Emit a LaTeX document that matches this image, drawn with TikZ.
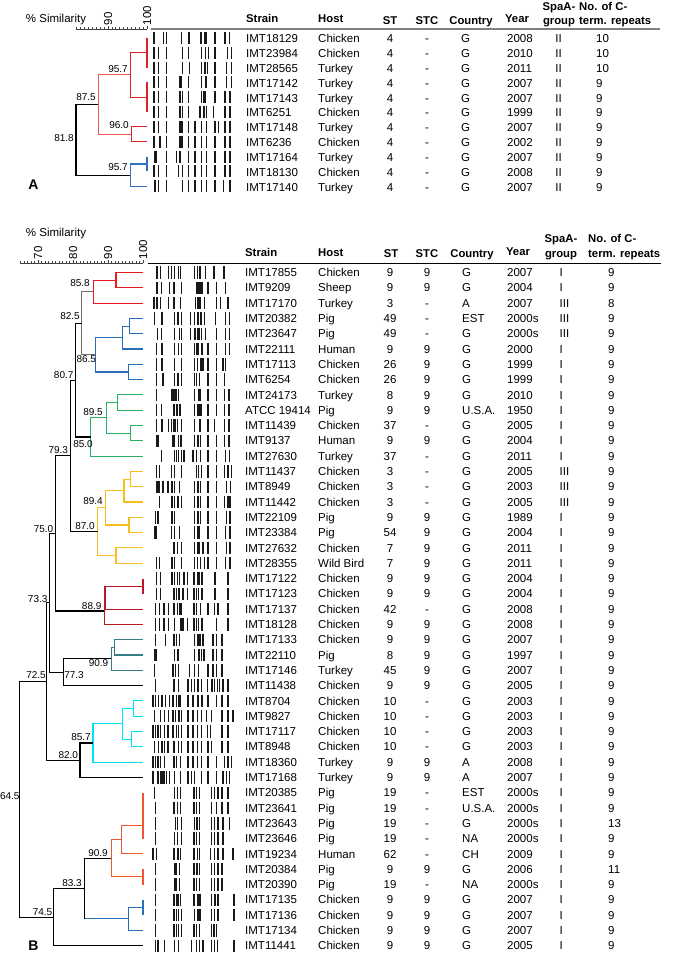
\documentclass[tikz,border=0pt]{standalone}
\usepackage{fontspec}
\setmainfont{Liberation Sans}
\definecolor{rA}{RGB}{228,30,38}
\definecolor{lrA}{RGB}{238,85,85}
\definecolor{bA}{RGB}{45,115,190}
\definecolor{rB}{RGB}{230,25,30}
\definecolor{bB}{RGB}{40,110,185}
\definecolor{gB}{RGB}{40,175,95}
\definecolor{yB}{RGB}{248,190,30}
\definecolor{drB}{RGB}{185,25,35}
\definecolor{tlB}{RGB}{55,125,135}
\definecolor{cyB}{RGB}{0,228,242}
\definecolor{orB}{RGB}{240,85,45}
\definecolor{gyN}{RGB}{110,110,110}
\tikzset{
 tx/.style={font=\fontsize{11.5}{13}\selectfont, inner sep=0pt, text height=8.2pt, text depth=0pt},
 hd/.style={tx, font=\fontsize{11.3}{13}\selectfont\bfseries},
 lab/.style={font=\fontsize{10}{12}\selectfont, inner sep=0pt, text height=7.2pt, text depth=0pt},
 band/.style={black!90, line width=1.1pt},
 den/.style={line width=1.1pt},
 axisln/.style={black!75, line width=0.7pt},
 panellab/.style={font=\fontsize{14}{16}\selectfont\bfseries, inner sep=0pt},
}
\newcommand\dgjoin[6]{\draw[den,#1] (#4,#3) -- (#2,#3) -- (#2,#5) -- (#6,#5);}
\newcommand\rowA[9]{%
 \pgfmathsetmacro\yy{38.3+14.9*#1}%
 \node[tx,anchor=west] (as#1) at (246,\yy) {#2};
 \node[tx,anchor=west] (ah#1) at (318,\yy) {#3};
 \node[tx] (ast#1) at (390,\yy) {#4};
 \node[tx] (astc#1) at (427,\yy) {#5};
 \node[tx,anchor=west] (ac#1) at (461,\yy) {#6};
 \node[tx,anchor=west] (ay#1) at (507,\yy) {#7};
 \node[tx] (ag#1) at (558.5,\yy) {#8};
 \node[tx,anchor=west] (an#1) at (596,\yy) {#9};
}
\newcommand\rowB[9]{%
 \pgfmathsetmacro\yy{272.5+15.3*#1}%
 \node[tx,anchor=west] (bs#1) at (245,\yy) {#2};
 \node[tx,anchor=west] (bh#1) at (318,\yy) {#3};
 \node[tx] (bst#1) at (390,\yy) {#4};
 \node[tx] (bstc#1) at (427,\yy) {#5};
 \node[tx,anchor=west] (bc#1) at (462,\yy) {#6};
 \node[tx,anchor=west] (by#1) at (507,\yy) {#7};
 \node[tx,anchor=west] (bg#1) at (559.5,\yy) {#8};
 \node[tx,anchor=west] (bn#1) at (608,\yy) {#9};
}
\begin{document}
\begin{tikzpicture}[x=1pt,y=-1pt]
\useasboundingbox (0,0) rectangle (681,956);
\fill[white] (0,0) rectangle (681,956);

% ================= PANEL A =================
\node[tx] (simA) at (56,18.3) {\% Similarity};
\draw[axisln] (76,29) -- (147,29);
\foreach \s in {82,...,100} {\pgfmathsetmacro\xx{147-(100-\s)*3.9}\draw[axisln] (\xx,29) -- (\xx,27.2);}
\foreach \s in {90,100} {\pgfmathsetmacro\xx{147-(100-\s)*3.9}\draw[axisln] (\xx,29) -- (\xx,25.8);}
\node[tx,rotate=90,anchor=west] (ax90) at (108,25.5) {90};
\node[tx,rotate=90,anchor=west] (ax100) at (147,25.5) {100};
\draw[gray, line width=2pt] (151,29) -- (660,29);

% headers A
\node[hd,anchor=west] (hAs) at (246,18.5) {Strain};
\node[hd,anchor=west] (hAh) at (318,18.5) {Host};
\node[hd] (hAst) at (390,20.5) {ST};
\node[hd] (hAstc) at (427,20) {STC};
\node[hd] (hAc) at (471,20) {Country};
\node[hd] (hAy) at (517,18.5) {Year};
\node[hd] (hAg1) at (559,6.5) {SpaA-};
\node[hd] (hAg2) at (559,20) {group};
\node[hd,anchor=west] (hAn1) at (579,6.5) {No. of C-};
\node[hd,anchor=west] (hAn2) at (579,20) {term. repeats};

\rowA{0}{IMT18129}{Chicken}{4}{-}{G}{2008}{II}{10}
\rowA{1}{IMT23984}{Chicken}{4}{-}{G}{2010}{II}{10}
\rowA{2}{IMT28565}{Turkey}{4}{-}{G}{2011}{II}{10}
\rowA{3}{IMT17142}{Turkey}{4}{-}{G}{2007}{II}{9}
\rowA{4}{IMT17143}{Turkey}{4}{-}{G}{2007}{II}{9}
\rowA{5}{IMT6251}{Chicken}{4}{-}{G}{1999}{II}{9}
\rowA{6}{IMT17148}{Turkey}{4}{-}{G}{2007}{II}{9}
\rowA{7}{IMT6236}{Chicken}{4}{-}{G}{2002}{II}{9}
\rowA{8}{IMT17164}{Turkey}{4}{-}{G}{2007}{II}{9}
\rowA{9}{IMT18130}{Chicken}{4}{-}{G}{2008}{II}{9}
\rowA{10}{IMT17140}{Turkey}{4}{-}{G}{2007}{II}{9}

% gel A
\foreach \i/\L in {
0/{462,490,500,545,567,603,615,620,645,675,688},
1/{462,475,500,548,565,605,617,625,645,683,695},
2/{462,475,500,548,568,605,615,622,645,680,695},
3/{462,475,500,538,542,545,565,605,618,645,680,695},
4/{462,475,500,540,548,565,605,612,615,645,675,690},
5/{462,475,500,540,548,565,600,612,620,640,675,690},
6/{462,475,500,540,543,548,565,585,605,620,645,655,675,690},
7/{462,480,500,540,543,548,565,585,605,620,645,675,690},
8/{465,470,500,530,540,565,585,605,620,645,675,690},
9/{462,475,500,535,548,565,585,605,620,645,675,690},
10/{465,475,500,548,565,585,605,620,645,670,690}} {
 \pgfmathsetmacro\yy{37.8+14.85*\i}
 \foreach \z in \L {\draw[band] ({\z/3},{\yy-6}) -- ({\z/3},{\yy+6});}
}

% dendrogram A
\draw[den,rA] (147,37.8) -- (147,67.5);
\draw[den,rA] (147,82.35) -- (147,112.05);
\dgjoin{rA}{130.2}{52.65}{147}{97.2}{147}
\dgjoin{rA}{131.4}{126.9}{147}{141.75}{147}
\dgjoin{lrA}{98.25}{74.9}{130.2}{134.3}{131.4}
\draw[den,bA] (147,156.6) -- (147,171.45);
\dgjoin{bA}{130.2}{164.0}{147}{186.3}{147}
\dgjoin{black}{76}{104.6}{98.25}{175.2}{130.2}
\node[lab] (la1) at (118,69) {95.7};
\node[lab] (la2) at (86,96.7) {87.5};
\node[lab] (la3) at (119,125) {96.0};
\node[lab] (la4) at (64,137.7) {81.8};
\node[lab] (la5) at (118,166.7) {95.7};
\node[panellab] (pA) at (33.5,185) {A};

% ================= PANEL B =================
\node[tx] (simB) at (56,232.3) {\% Similarity};
\draw[axisln] (20,263) -- (143,263);
\foreach \s in {65,...,100} {\pgfmathsetmacro\xx{143-(100-\s)*3.5}\draw[axisln] (\xx,263) -- (\xx,261.2);}
\foreach \s in {70,80,90,100} {\pgfmathsetmacro\xx{143-(100-\s)*3.5}\draw[axisln] (\xx,263) -- (\xx,259.8);}
\node[tx,rotate=90,anchor=west] (bx70) at (38,259.5) {70};
\node[tx,rotate=90,anchor=west] (bx80) at (73,259.5) {80};
\node[tx,rotate=90,anchor=west] (bx90) at (108,259.5) {90};
\node[tx,rotate=90,anchor=west] (bx100) at (143,259.5) {100};
\draw[black, line width=0.8pt] (148,263) -- (661,263);

% headers B
\node[hd,anchor=west] (hBs) at (245,252.5) {Strain};
\node[hd,anchor=west] (hBh) at (318,252.5) {Host};
\node[hd] (hBst) at (391,253.5) {ST};
\node[hd] (hBstc) at (427,253.5) {STC};
\node[hd] (hBc) at (472,253.5) {Country};
\node[hd] (hBy) at (518,251) {Year};
\node[hd] (hBg1) at (561,238) {SpaA-};
\node[hd] (hBg2) at (561,253.5) {group};
\node[hd,anchor=west] (hBn1) at (588,238) {No. of C-};
\node[hd,anchor=west] (hBn2) at (588,253.5) {term. repeats};

\rowB{0}{IMT17855}{Chicken}{9}{9}{G}{2007}{I}{9}
\rowB{1}{IMT9209}{Sheep}{9}{9}{G}{2004}{I}{9}
\rowB{2}{IMT17170}{Turkey}{3}{-}{A}{2007}{III}{8}
\rowB{3}{IMT20382}{Pig}{49}{-}{EST}{2000s}{III}{9}
\rowB{4}{IMT23647}{Pig}{49}{-}{G}{2000s}{III}{9}
\rowB{5}{IMT22111}{Human}{9}{9}{G}{2000}{I}{9}
\rowB{6}{IMT17113}{Chicken}{26}{9}{G}{1999}{I}{9}
\rowB{7}{IMT6254}{Chicken}{26}{9}{G}{1999}{I}{9}
\rowB{8}{IMT24173}{Turkey}{8}{9}{G}{2010}{I}{9}
\rowB{9}{ATCC 19414}{Pig}{9}{9}{U.S.A.}{1950}{I}{9}
\rowB{10}{IMT11439}{Chicken}{37}{-}{G}{2005}{I}{9}
\rowB{11}{IMT9137}{Human}{9}{9}{G}{2004}{I}{9}
\rowB{12}{IMT27630}{Turkey}{37}{-}{G}{2011}{I}{9}
\rowB{13}{IMT11437}{Chicken}{3}{-}{G}{2005}{III}{9}
\rowB{14}{IMT8949}{Chicken}{3}{-}{G}{2003}{III}{9}
\rowB{15}{IMT11442}{Chicken}{3}{-}{G}{2005}{III}{9}
\rowB{16}{IMT22109}{Pig}{9}{9}{G}{1989}{I}{9}
\rowB{17}{IMT23384}{Pig}{54}{9}{G}{2004}{I}{9}
\rowB{18}{IMT27632}{Chicken}{7}{9}{G}{2011}{I}{9}
\rowB{19}{IMT28355}{Wild Bird}{7}{9}{G}{2011}{I}{9}
\rowB{20}{IMT17122}{Chicken}{9}{9}{G}{2004}{I}{9}
\rowB{21}{IMT17123}{Chicken}{9}{9}{G}{2004}{I}{9}
\rowB{22}{IMT17137}{Chicken}{42}{-}{G}{2008}{I}{9}
\rowB{23}{IMT18128}{Chicken}{9}{9}{G}{2008}{I}{9}
\rowB{24}{IMT17133}{Chicken}{9}{9}{G}{2007}{I}{9}
\rowB{25}{IMT22110}{Pig}{8}{9}{G}{1997}{I}{9}
\rowB{26}{IMT17146}{Turkey}{45}{9}{G}{2007}{I}{9}
\rowB{27}{IMT11438}{Chicken}{9}{9}{G}{2005}{I}{9}
\rowB{28}{IMT8704}{Chicken}{10}{-}{G}{2003}{I}{9}
\rowB{29}{IMT9827}{Chicken}{10}{-}{G}{2003}{I}{9}
\rowB{30}{IMT17117}{Chicken}{10}{-}{G}{2003}{I}{9}
\rowB{31}{IMT8948}{Chicken}{10}{-}{G}{2003}{I}{9}
\rowB{32}{IMT18360}{Turkey}{9}{9}{A}{2008}{I}{9}
\rowB{33}{IMT17168}{Turkey}{9}{9}{A}{2007}{I}{9}
\rowB{34}{IMT20385}{Pig}{19}{-}{EST}{2000s}{I}{9}
\rowB{35}{IMT23641}{Pig}{19}{-}{U.S.A.}{2000s}{I}{9}
\rowB{36}{IMT23643}{Pig}{19}{-}{G}{2000s}{I}{13}
\rowB{37}{IMT23646}{Pig}{19}{-}{NA}{2000s}{I}{9}
\rowB{38}{IMT19234}{Human}{62}{-}{CH}{2009}{I}{9}
\rowB{39}{IMT20384}{Pig}{9}{9}{G}{2006}{I}{11}
\rowB{40}{IMT20390}{Pig}{19}{-}{NA}{2000s}{I}{9}
\rowB{41}{IMT17135}{Chicken}{9}{9}{G}{2007}{I}{9}
\rowB{42}{IMT17136}{Chicken}{9}{9}{G}{2007}{I}{9}
\rowB{43}{IMT17134}{Chicken}{9}{9}{G}{2007}{I}{9}
\rowB{44}{IMT11441}{Chicken}{9}{9}{G}{2005}{I}{9}

% gel B
\foreach \i/\L in {
0/{27,38,62,70,80,92,97,140,148,155,158,172,198,228},
1/{27,40,65,78,100,145,150,155,158,162,180,205,232},
2/{18,27,38,62,78,98,142,150,153,158,170,205,218,240},
3/{20,42,80,90,100,128,140,150,157,160,170,203,232,245},
4/{28,40,80,95,100,128,140,143,150,153,160,172,205,232,245},
5/{25,42,80,92,100,140,145,148,152,162,180,205,232,245},
6/{25,42,80,100,140,148,158,161,165,180,205,225,232},
7/{25,45,80,90,100,140,145,155,180,205,230},
8/{25,72,78,81,85,92,140,152,155,158,180,205,230,243},
9/{25,40,78,85,88,95,98,140,148,151,155,158,160,180,205,230,243},
10/{25,42,62,70,78,81,88,100,140,155,158,180,200,230,243},
11/{25,28,32,75,78,92,98,101,140,150,158,180,205,230,243},
12/{40,80,85,92,100,108,135,145,158,180,205,232,245},
13/{25,35,70,80,100,145,152,160,180,205,230,240,250},
14/{25,30,33,45,60,72,80,95,140,148,151,158,180,205,235,248},
15/{35,72,80,90,100,140,148,151,158,180,205,230,240,243,248},
16/{22,30,72,80,140,148,151,158,180,205,235,245,248},
17/{20,23,26,70,80,95,140,148,151,155,180,205,232,245,248},
18/{78,88,100,140,148,151,155,165,180,205,235,245,248},
19/{25,35,72,80,100,140,148,158,170,180,205,232,245,248},
20/{25,38,72,80,88,95,108,118,138,148,151,154,162,200,203,240},
21/{25,38,78,85,92,95,105,118,138,145,152,162,200,203,240},
22/{22,35,48,62,78,88,95,98,101,138,145,158,180,200,210,240},
23/{22,35,48,62,80,98,101,105,118,138,145,152,162,205,240},
24/{22,52,78,85,95,140,150,153,158,165,195,205,222},
25/{20,23,26,80,90,140,152,155,160,168,195,205,222},
26/{20,75,82,92,125,140,152,180,195,205,222},
27/{22,78,92,120,130,140,150,160,178,192,200,208,215,225,240},
28/{15,22,32,42,52,65,75,85,92,95,98,120,135,150,162,180,205,222,240},
29/{20,38,50,62,75,82,92,95,100,120,135,148,160,175,190,222,240,255},
30/{15,22,30,38,50,60,75,85,92,100,120,135,148,160,178,188,222,240},
31/{20,32,42,50,60,78,92,100,120,135,148,160,180,190,222,240},
32/{15,22,30,38,50,78,85,98,120,135,148,160,180,205,230,240,250},
33/{15,30,38,42,48,55,65,80,98,120,130,140,160,180,205,225,235,245},
34/{20,80,88,98,138,145,155,190,200,210,222,240},
35/{22,78,88,98,138,145,155,190,205,222,240},
36/{22,82,88,100,140,145,148,155,190,200,210,225,245},
37/{22,80,88,100,138,145,155,190,200,210,225},
38/{15,25,78,88,91,98,138,148,155,188,200,210,225,255},
39/{22,80,83,86,95,138,145,148,155,190,200,210,222},
40/{22,80,83,86,95,138,145,155,190,200,210,222},
41/{22,78,85,88,92,98,138,150,153,158,190,200,203,210,258},
42/{22,78,85,92,100,140,150,153,156,158,190,200,210,258},
43/{22,78,85,92,100,138,145,155,190,198,205},
44/{22,30,50,80,92,130,145,155,165,190,200,208,258}} {
 \pgfmathsetmacro\yy{272.5+15.3*\i}
 \foreach \z in \L {\draw[band] ({148+\z/3},{\yy-6.2}) -- ({148+\z/3},{\yy+6.2});}
}

% dendrogram B
\dgjoin{rB}{116}{272.5}{143}{287.8}{143}
\dgjoin{rB}{93.3}{280.15}{116}{303.1}{143}
\dgjoin{bB}{129.3}{318.4}{143}{333.7}{143}
\dgjoin{bB}{122.7}{326.05}{129.3}{349}{143}
\dgjoin{bB}{128.7}{364.3}{143}{379.6}{143}
\dgjoin{bB}{95.75}{337.5}{122.7}{371.95}{128.7}
\dgjoin{gyN}{81.75}{291.6}{93.3}{354.7}{95.75}
\dgjoin{gB}{117.7}{394.9}{143}{410.2}{143}
\dgjoin{gB}{130.7}{425.5}{143}{440.8}{143}
\dgjoin{gB}{106.25}{402.55}{117.7}{433.15}{130.7}
\dgjoin{gB}{90.5}{417.85}{106.25}{456.1}{143}
\dgjoin{black}{75.5}{323.15}{81.75}{436.98}{90.5}
\dgjoin{yB}{130.7}{471.4}{143}{486.7}{143}
\dgjoin{yB}{124}{479.05}{130.7}{502}{143}
\dgjoin{yB}{129}{517.3}{143}{532.6}{143}
\dgjoin{yB}{105.9}{490.5}{124}{524.95}{129}
\dgjoin{yB}{116}{547.9}{143}{563.2}{143}
\dgjoin{yB}{97.5}{507.7}{105.9}{555.55}{116}
\dgjoin{black}{70.5}{380.07}{75.5}{531.6}{97.5}
\draw[den,drB] (143,578.5) -- (143,593.8);
\dgjoin{drB}{105}{586.15}{143}{609.1}{143}
\dgjoin{drB}{104.15}{597.6}{105}{624.4}{143}
\dgjoin{black}{55.5}{455.8}{70.5}{611}{104.15}
\dgjoin{tlB}{114.3}{639.7}{143}{655}{143}
\dgjoin{tlB}{111.15}{647.35}{114.3}{670.3}{143}
\dgjoin{black}{63.55}{658.8}{111.15}{685.6}{143}
\dgjoin{black}{49.55}{533.4}{55.5}{672.2}{63.55}
\dgjoin{cyB}{133.3}{700.9}{143}{716.2}{143}
\dgjoin{cyB}{131.7}{731.5}{143}{746.8}{143}
\dgjoin{cyB}{122.5}{708.55}{133.3}{739.15}{131.7}
\dgjoin{cyB}{93}{723.85}{122.5}{762.1}{143}
\dgjoin{black}{80}{742.98}{93}{777.4}{143}
\dgjoin{black}{46.75}{602.8}{49.55}{760.19}{80}
\draw[den,orB] (143,792.7) -- (143,838.6);
\dgjoin{orB}{121.7}{825.2}{143}{853.9}{143}
\draw[den,orB] (143,869.2) -- (143,884.5);
\dgjoin{orB}{111.15}{839.55}{121.7}{876.85}{143}
\draw[den,bB] (143,899.8) -- (143,915.1);
\dgjoin{bB}{128.3}{907.45}{143}{930.4}{143}
\draw[den,black] (111.15,858.2) -- (84.55,858.2) -- (84.55,918.9);
\draw[den,bB] (84.55,918.9) -- (128.3,918.9);
\dgjoin{black}{53.75}{888.55}{84.55}{945.7}{143}
\dgjoin{black}{19.75}{681.5}{46.75}{917.1}{53.75}

\node[lab] (lb1) at (80,283.3) {85.8};
\node[lab] (lb2) at (70,316) {82.5};
\node[lab] (lb3) at (86.3,359.3) {86.5};
\node[lab] (lb4) at (63.7,375) {80.7};
\node[lab] (lb5) at (93,412.3) {89.5};
\node[lab] (lb6) at (83,444.3) {85.0};
\node[lab] (lb7) at (58.3,450) {79.3};
\node[lab] (lb8) at (93,501) {89.4};
\node[lab] (lb9) at (85,526) {87.0};
\node[lab] (lb10) at (43.5,529.3) {75.0};
\node[lab] (lb11) at (91.7,606.3) {88.9};
\node[lab] (lb12) at (37.7,599.3) {73.3};
\node[lab] (lb13) at (98.5,663.3) {90.9};
\node[lab] (lb14) at (74,675) {77.3};
\node[lab] (lb15) at (36,675) {72.5};
\node[lab] (lb16) at (81,737.3) {85.7};
\node[lab] (lb17) at (68.3,755) {82.0};
\node[lab] (lb18) at (9.8,795.7) {64.5};
\node[lab] (lb19) at (98,853.3) {90.9};
\node[lab] (lb20) at (72,883.3) {83.3};
\node[lab] (lb21) at (42.5,911.7) {74.5};
\node[panellab] (pB) at (33.5,946) {B};
\end{tikzpicture}
\end{document}
